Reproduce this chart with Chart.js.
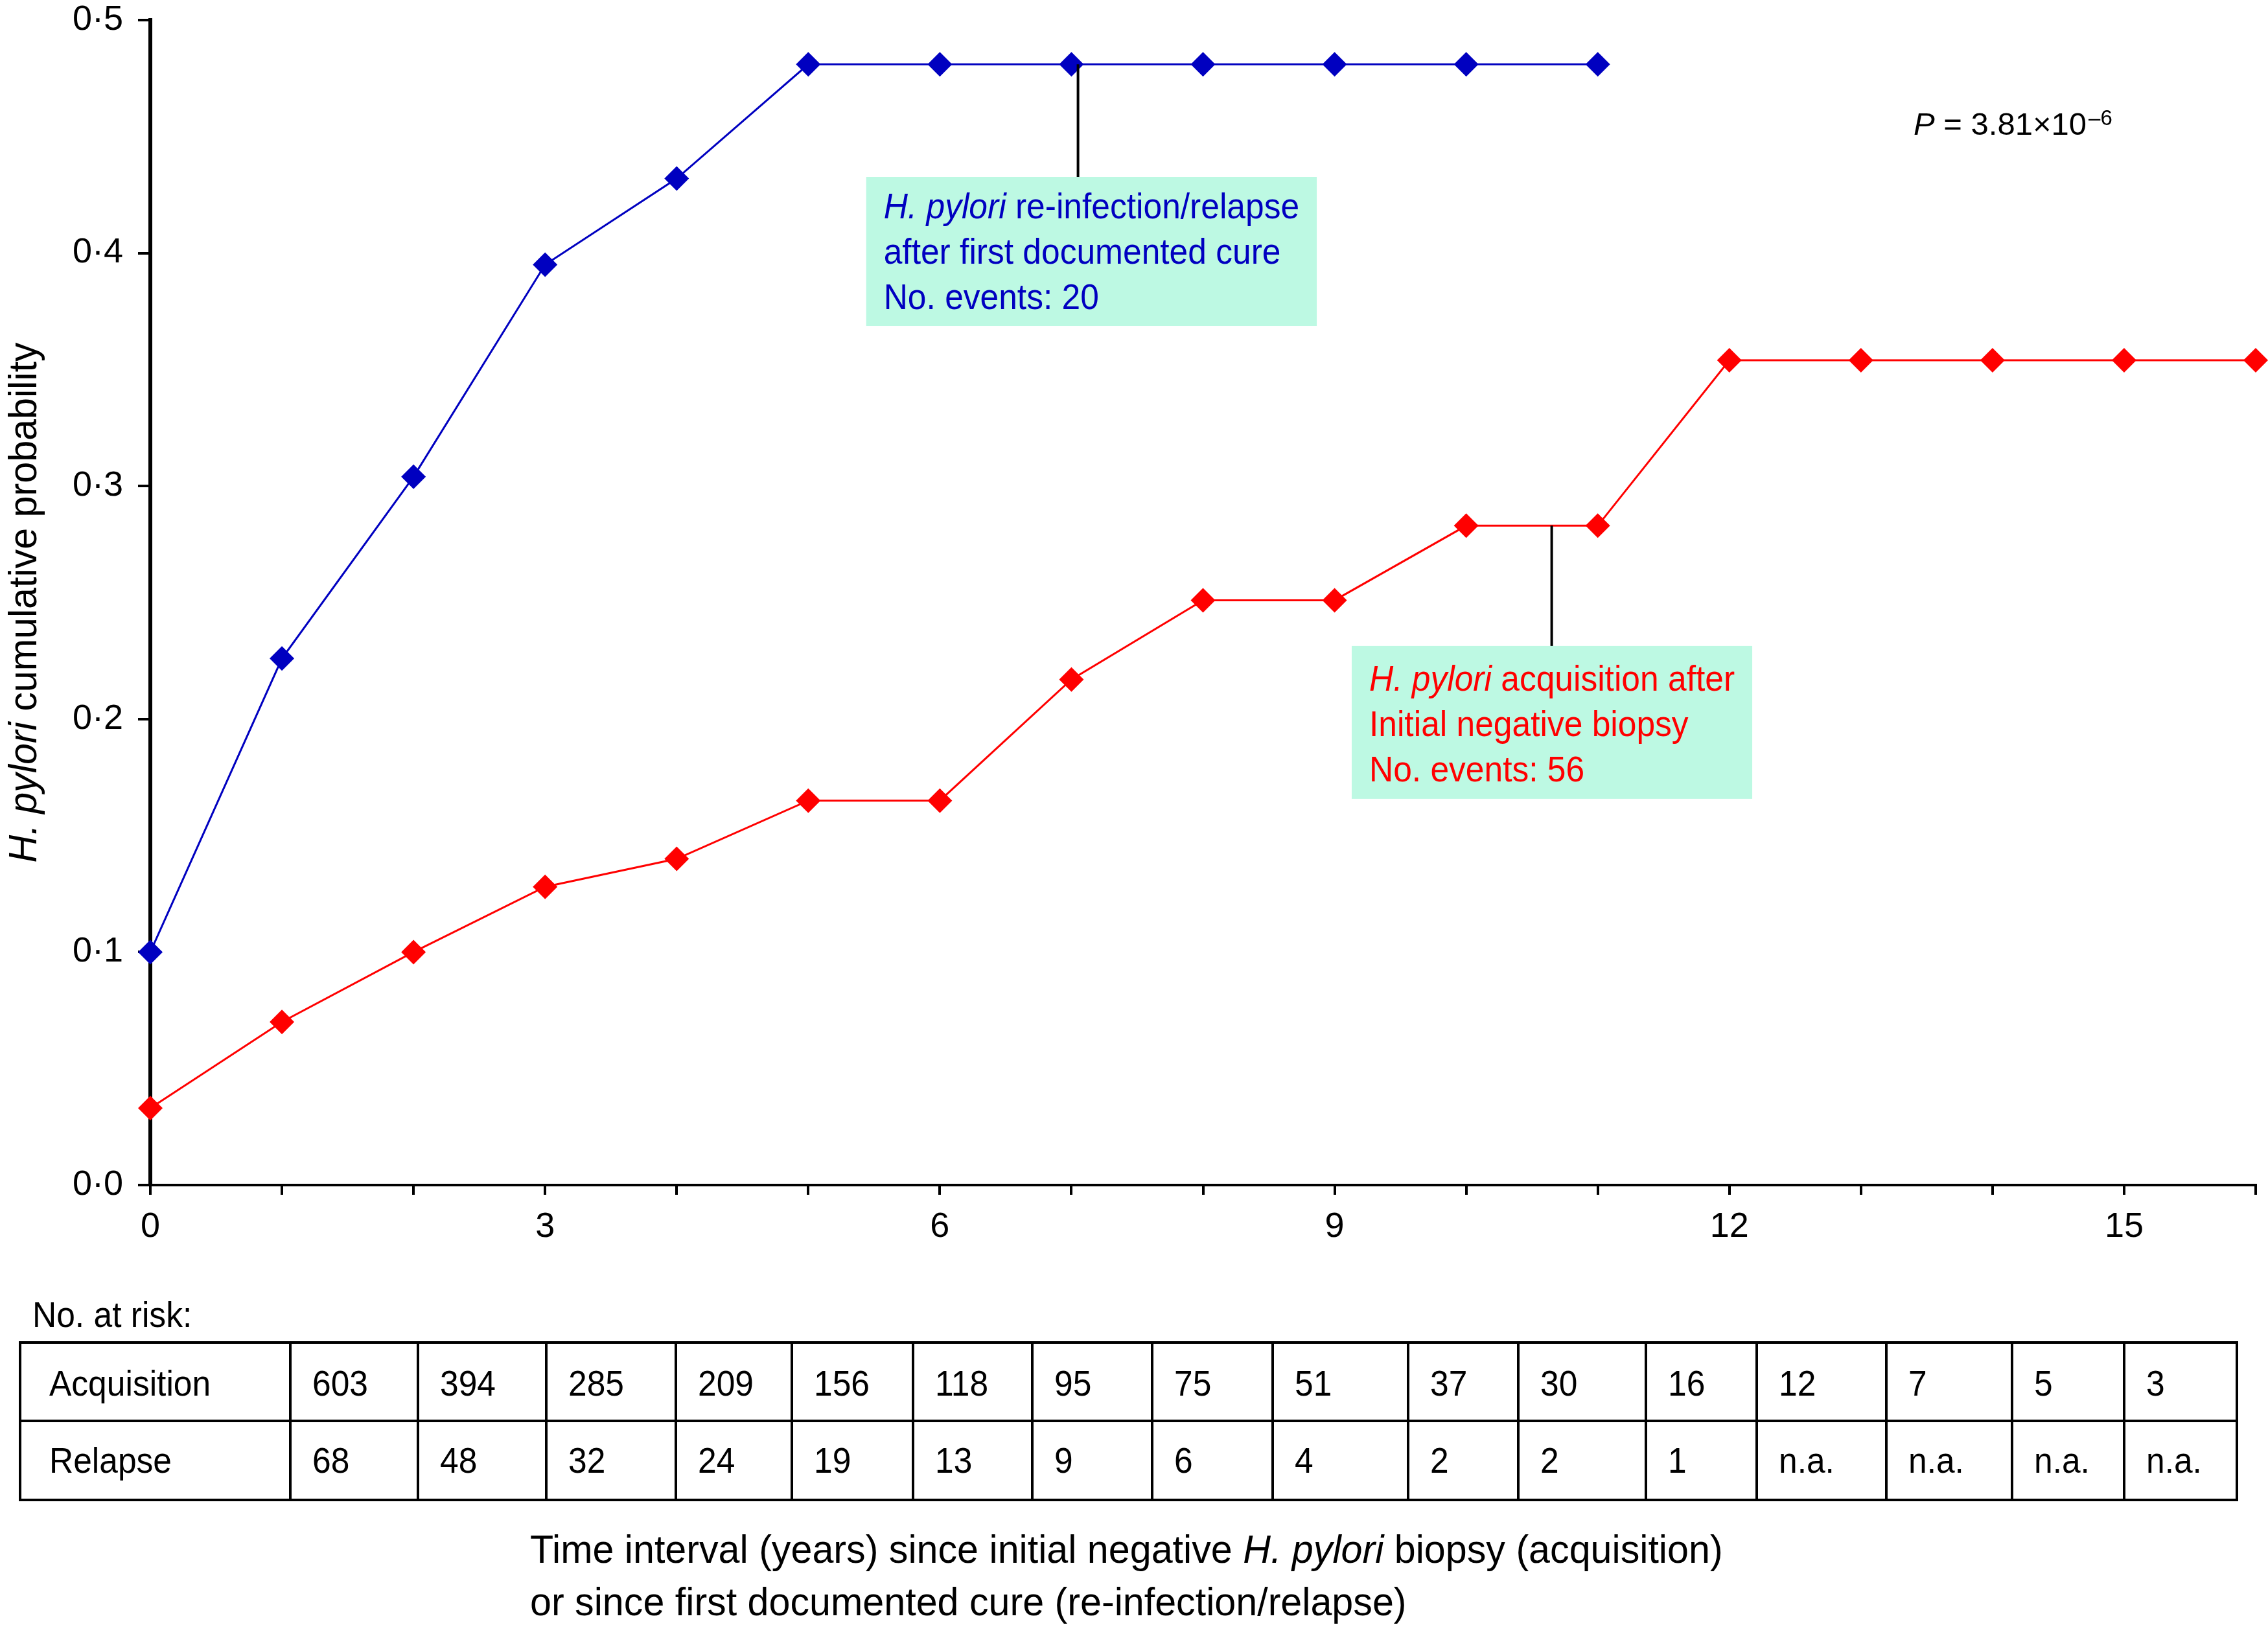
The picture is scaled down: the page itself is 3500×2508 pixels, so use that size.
<!DOCTYPE html>
<html>
<head>
<meta charset="utf-8">
<script src="https://cdn.jsdelivr.net/npm/chart.js@4.4.1/dist/chart.umd.min.js"></script>
<style>
    html, body { margin: 0; padding: 0; background: #fff; }
    #km { display: block; }
</style>
</head>
<body>
<canvas id="km" width="3500" height="2508"></canvas>
<script>
'use strict';

// cumulative probability
const relapseYears = [0, 1, 2, 3, 4, 5, 6, 7, 8, 9, 10, 11];
const relapseProb = [0.100, 0.226, 0.304, 0.395, 0.432, 0.481, 0.481, 0.481, 0.481, 0.481, 0.481, 0.481];

const acquisitionYears = [0, 1, 2, 3, 4, 5, 6, 7, 8, 9, 10, 11, 12, 13, 14, 15, 16];
const acquisitionProb = [0.033, 0.070, 0.100, 0.128, 0.140, 0.165, 0.165, 0.217, 0.251, 0.251,
    0.283, 0.283, 0.354, 0.354, 0.354, 0.354, 0.354];

const xLabelYears = [0, 3, 6, 9, 12, 15];

// number at risk table
const riskRowLabels = ["Acquisition", "Relapse"];
const riskAcquisition = ["603", "394", "285", "209", "156", "118", "95", "75", "51", "37", "30", "16", "12", "7", "5", "3"];
const riskRelapse = ["68", "48", "32", "24", "19", "13", "9", "6", "4", "2", "2", "1", "n.a.", "n.a.", "n.a.", "n.a."];

const relapseNote = [
    [["H. pylori", true], [" re-infection/relapse", false]],
    [["after first documented cure", false]],
    [["No. events: 20", false]],
];
const acquisitionNote = [
    [["H. pylori", true], [" acquisition after", false]],
    [["Initial negative biopsy", false]],
    [["No. events: 56", false]],
];

const FONT = '"Liberation Sans", Arial, Helvetica, sans-serif';
const BLUE = "#0000c0";
const RED = "#ff0000";
const NOTE_FILL = "#bdf9e3";
const SQUEEZE = 0.92; // the original lettering is a little narrower than Arial

// table layout (pixels)
const tableCols = [31, 448, 645, 843, 1043, 1222, 1409, 1593, 1778, 1964, 2173, 2343, 2540, 2711, 2911, 3105, 3278, 3452];
const tableRows = [2072, 2193, 2315];
const tableBaselines = [2154, 2273];

function toPoints(xs, ys) {
    return xs.map((x, i) => ({ x, y: ys[i] }));
}

function richWidth(ctx, segments, size, sx = 1) {
    let w = 0;
    segments.forEach(([text, italic]) => {
        ctx.font = `${italic ? "italic " : ""}${size}px ${FONT}`;
        w += ctx.measureText(text).width;
    });
    return w * sx;
}

// draws mixed roman/italic text, squeezed horizontally by sx
function drawRich(ctx, segments, x, y, size, color, sx = 1) {
    ctx.save();
    ctx.translate(x, y);
    ctx.scale(sx, 1);
    ctx.fillStyle = color;
    let cx = 0;
    segments.forEach(([text, italic]) => {
        ctx.font = `${italic ? "italic " : ""}${size}px ${FONT}`;
        ctx.fillText(text, cx, 0);
        cx += ctx.measureText(text).width;
    });
    ctx.restore();
    return cx * sx;
}

const notes = [
    { lines: relapseNote, color: BLUE, linkX: 7.05, linkY: relapseProb[7], left: 5.44, top: 0.4327, padTop: 64, padBottom: 26 },
    { lines: acquisitionNote, color: RED, linkX: 10.65, linkY: acquisitionProb[10], left: 9.13, top: 0.2314, padTop: 69, padBottom: 27 },
];

const notesPlugin = {
    id: "notes",
    afterDatasetsDraw(chart) {
        const { ctx, scales: { x, y } } = chart;
        const size = 56, lineGap = 70, padX = 27;
        ctx.save();
        ctx.textBaseline = "alphabetic";
        ctx.textAlign = "left";
        notes.forEach(note => {
            const left = x.getPixelForValue(note.left);
            const top = y.getPixelForValue(note.top);
            const w = Math.max(...note.lines.map(l => richWidth(ctx, l, size, SQUEEZE))) + padX * 2;
            const h = note.padTop + lineGap * (note.lines.length - 1) + note.padBottom;

            ctx.strokeStyle = "#000";
            ctx.lineWidth = 4;
            ctx.beginPath();
            ctx.moveTo(x.getPixelForValue(note.linkX), y.getPixelForValue(note.linkY));
            ctx.lineTo(x.getPixelForValue(note.linkX), top);
            ctx.stroke();

            ctx.fillStyle = NOTE_FILL;
            ctx.fillRect(left, top, w, h);
            note.lines.forEach((line, i) => {
                drawRich(ctx, line, left + padX, top + note.padTop + i * lineGap, size, note.color, SQUEEZE);
            });
        });

        // P value
        const px = x.getPixelForValue(13.4);
        const py = y.getPixelForValue(0.4508);
        const used = drawRich(ctx, [["P", true], [" = 3.81\u00d710", false]], px, py, 49, "#000");
        drawRich(ctx, [["\u20136", false]], px + used + 3, py - 15, 33, "#000");
        ctx.restore();
    }
};

const extrasPlugin = {
    id: "extras",
    afterDraw(chart) {
        const { ctx, chartArea } = chart;
        ctx.save();
        ctx.textAlign = "left";
        ctx.textBaseline = "alphabetic";

        // y axis title
        const yTitle = [["H. pylori", true], [" cumulative probability", false]];
        const tw = richWidth(ctx, yTitle, 62, 0.955);
        ctx.save();
        ctx.translate(56, (chartArea.top + chartArea.bottom) / 2);
        ctx.rotate(-Math.PI / 2);
        drawRich(ctx, yTitle, -tw / 2, 0, 62, "#000", 0.955);
        ctx.restore();

        // x axis title
        drawRich(ctx, [["Time interval (years) since initial negative ", false], ["H. pylori", true],
            [" biopsy (acquisition)", false]], 818, 2412, 62, "#000", 0.955);
        drawRich(ctx, [["or since first documented cure (re-infection/relapse)", false]], 818, 2493, 62, "#000", 0.955);

        // number at risk table
        drawRich(ctx, [["No. at risk:", false]], 50, 2048, 56, "#000", SQUEEZE);
        const left = tableCols[0], right = tableCols[tableCols.length - 1];
        ctx.strokeStyle = "#000";
        ctx.lineWidth = 4;
        tableRows.forEach(ry => {
            ctx.beginPath();
            ctx.moveTo(left - 2, ry);
            ctx.lineTo(right + 2, ry);
            ctx.stroke();
        });
        tableCols.forEach(cx => {
            ctx.beginPath();
            ctx.moveTo(cx, tableRows[0]);
            ctx.lineTo(cx, tableRows[tableRows.length - 1]);
            ctx.stroke();
        });
        const rows = [riskAcquisition, riskRelapse];
        rows.forEach((vals, r) => {
            drawRich(ctx, [[riskRowLabels[r], false]], tableCols[0] + 45, tableBaselines[r], 56, "#000", SQUEEZE);
            vals.forEach((v, c) => {
                drawRich(ctx, [[v, false]], tableCols[c + 1] + 34, tableBaselines[r], 56, "#000", SQUEEZE);
            });
        });
        ctx.restore();
    }
};

Chart.defaults.font.family = FONT;
Chart.defaults.color = "#000";

const axisGrid = tickLength => ({
    display: true,
    drawOnChartArea: false,
    drawTicks: true,
    tickLength,
    tickWidth: 4,
    tickColor: "#000",
    lineWidth: 4,
    color: "#000",
});

new Chart(document.getElementById("km"), {
    type: "line",
    data: {
        datasets: [
            {
                label: "Re-infection/relapse",
                data: toPoints(relapseYears, relapseProb),
                borderColor: BLUE,
                backgroundColor: BLUE,
                borderWidth: 3,
                pointStyle: "rectRot",
                pointRadius: 19,
                pointBorderWidth: 0,
                tension: 0,
                clip: false,
            },
            {
                label: "Acquisition",
                data: toPoints(acquisitionYears, acquisitionProb),
                borderColor: RED,
                backgroundColor: RED,
                borderWidth: 3,
                pointStyle: "rectRot",
                pointRadius: 19,
                pointBorderWidth: 0,
                tension: 0,
                clip: false,
            },
        ]
    },
    options: {
        responsive: false,
        animation: false,
        devicePixelRatio: 1,
        layout: { padding: { left: 0, top: 31, right: 17, bottom: 559 } },
        plugins: { legend: { display: false }, tooltip: { enabled: false } },
        scales: {
            x: {
                type: "linear",
                min: 0,
                max: 16,
                ticks: {
                    stepSize: 1,
                    autoSkip: false,
                    maxRotation: 0,
                    padding: 18,
                    font: { size: 54 },
                    callback: v => xLabelYears.includes(v) ? String(v) : "",
                },
                grid: axisGrid(15),
                border: { display: true, color: "#000", width: 4 },
                afterFit: s => {
                    s.height = 120;
                    s.paddingLeft = 0;
                    s.paddingRight = 0;
                },
            },
            y: {
                min: 0,
                max: 0.5,
                ticks: {
                    stepSize: 0.1,
                    padding: 23,
                    font: { size: 54 },
                    callback: v => v.toFixed(1).replace(".", "\u00b7"),
                },
                grid: axisGrid(19),
                border: { display: true, color: "#000", width: 6 },
                afterFit: s => {
                    s.width = 232;
                    s.paddingTop = 0;
                    s.paddingBottom = 0;
                },
            }
        }
    },
    plugins: [notesPlugin, extrasPlugin]
});
</script>
</body>
</html>
